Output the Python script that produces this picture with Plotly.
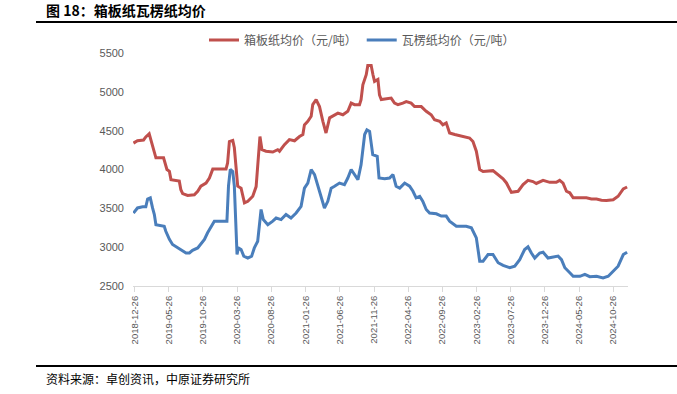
import plotly.graph_objects as go

# ---------------- data ----------------
red_name = "箱板纸均价（元/吨）"
blue_name = "瓦楞纸均价（元/吨）"

red_dates = ["2018-12-21","2019-01-08","2019-02-04","2019-02-14","2019-03-01","2019-03-16","2019-03-24","2019-03-31","2019-05-04","2019-05-10","2019-05-19","2019-05-30","2019-06-06","2019-07-13","2019-07-20","2019-07-28","2019-08-19","2019-09-18","2019-10-03","2019-10-17","2019-11-09","2019-11-24","2019-12-09","2020-02-06","2020-02-13","2020-02-21","2020-03-07","2020-03-14","2020-03-21","2020-03-29","2020-04-13","2020-04-28","2020-05-13","2020-06-04","2020-06-19","2020-06-26","2020-07-06","2020-07-15","2020-08-02","2020-09-01","2020-09-23","2020-10-01","2020-10-23","2020-11-14","2020-12-07","2020-12-29","2021-01-13","2021-01-20","2021-02-04","2021-02-19","2021-02-26","2021-03-13","2021-03-28","2021-04-12","2021-04-26","2021-05-12","2021-05-26","2021-06-18","2021-07-10","2021-08-01","2021-08-16","2021-08-31","2021-09-22","2021-09-29","2021-10-07","2021-10-22","2021-10-29","2021-11-13","2021-11-21","2021-11-28","2021-12-13","2021-12-20","2021-12-28","2022-02-10","2022-02-25","2022-03-12","2022-04-03","2022-04-18","2022-05-10","2022-05-25","2022-06-24","2022-07-16","2022-08-07","2022-08-22","2022-09-14","2022-09-28","2022-10-13","2022-10-28","2022-11-20","2023-01-03","2023-01-25","2023-02-09","2023-02-24","2023-03-11","2023-03-26","2023-05-09","2023-06-01","2023-06-23","2023-07-08","2023-07-30","2023-08-29","2023-09-20","2023-10-12","2023-11-03","2023-11-18","2023-12-18","2024-01-17","2024-02-15","2024-03-01","2024-03-16","2024-03-31","2024-04-15","2024-04-30","2024-05-30","2024-06-28","2024-07-20","2024-08-12","2024-09-03","2024-09-25","2024-10-25","2024-11-16","2024-12-09","2024-12-26"]
red_vals = [4340,4370,4380,4420,4460,4300,4190,4150,4150,4100,4000,3975,3870,3850,3740,3690,3665,3675,3720,3785,3825,3890,4005,4005,4085,4360,4375,4280,4000,3785,3760,3570,3590,3655,3780,4060,4425,4255,4235,4225,4255,4235,4320,4385,4370,4425,4450,4575,4620,4685,4835,4900,4810,4620,4470,4665,4685,4725,4705,4750,4855,4835,4835,4900,5090,5220,5340,5340,5220,5135,5160,4960,4900,4920,4855,4835,4855,4875,4855,4810,4810,4750,4705,4640,4620,4575,4600,4470,4450,4425,4405,4360,4235,4000,3975,3985,3935,3880,3827,3706,3720,3805,3860,3845,3820,3860,3835,3835,3860,3825,3720,3700,3635,3635,3635,3620,3620,3605,3600,3610,3655,3750,3775]

blue_dates = ["2018-12-21","2019-01-08","2019-01-31","2019-02-14","2019-02-22","2019-03-06","2019-03-16","2019-03-24","2019-03-31","2019-04-15","2019-05-07","2019-05-14","2019-05-30","2019-06-13","2019-07-06","2019-07-28","2019-08-12","2019-08-27","2019-09-10","2019-10-03","2019-10-17","2019-11-02","2019-11-16","2019-12-01","2019-12-16","2020-02-10","2020-02-17","2020-02-25","2020-03-07","2020-03-14","2020-03-21","2020-03-26","2020-04-01","2020-04-13","2020-04-25","2020-05-13","2020-05-30","2020-06-11","2020-06-26","2020-07-01","2020-07-11","2020-07-21","2020-08-10","2020-09-01","2020-09-16","2020-10-08","2020-10-30","2020-11-21","2020-12-14","2021-01-05","2021-01-20","2021-02-04","2021-02-19","2021-03-06","2021-03-28","2021-04-19","2021-05-04","2021-05-19","2021-06-03","2021-06-25","2021-07-17","2021-08-01","2021-08-16","2021-08-31","2021-09-15","2021-09-29","2021-10-15","2021-10-25","2021-11-06","2021-11-13","2021-11-20","2021-12-10","2021-12-18","2022-01-12","2022-02-03","2022-02-18","2022-03-04","2022-03-20","2022-04-11","2022-05-03","2022-05-18","2022-06-01","2022-06-17","2022-07-01","2022-07-16","2022-07-31","2022-08-30","2022-09-21","2022-10-13","2022-10-28","2022-11-27","2023-01-10","2023-02-02","2023-02-24","2023-03-11","2023-03-26","2023-04-17","2023-05-09","2023-06-01","2023-06-23","2023-07-23","2023-08-14","2023-09-05","2023-09-27","2023-10-12","2023-10-27","2023-11-11","2023-12-03","2023-12-18","2024-01-09","2024-02-23","2024-03-09","2024-03-24","2024-04-15","2024-04-30","2024-05-30","2024-06-21","2024-07-13","2024-08-12","2024-09-10","2024-10-03","2024-10-25","2024-11-16","2024-12-09","2024-12-26"]
blue_vals = [3440,3505,3520,3520,3620,3635,3505,3420,3290,3280,3270,3205,3100,3035,2990,2945,2925,2925,2960,2990,3035,3100,3185,3270,3335,3335,3785,4000,3975,3785,3310,2905,2990,2970,2885,2860,2885,2990,3076,3250,3485,3355,3290,3335,3375,3355,3420,3375,3440,3525,3760,3825,4000,3935,3720,3505,3590,3760,3785,3825,3805,3890,4000,3935,3870,4060,4450,4510,4490,4340,4190,4170,3890,3880,3890,3935,3785,3760,3825,3785,3720,3635,3655,3590,3485,3440,3430,3400,3400,3335,3270,3270,3250,3120,2820,2820,2905,2905,2800,2765,2735,2755,2840,2970,3005,2925,2860,2925,2935,2860,2885,2840,2735,2670,2625,2625,2650,2620,2625,2605,2625,2690,2755,2905,2935]

x_ticks = ["2018-12-26","2019-05-26","2019-10-26","2020-03-26","2020-08-26","2021-01-26","2021-06-26","2021-11-26","2022-04-26","2022-09-26","2023-02-26","2023-07-26","2023-12-26","2024-05-26","2024-10-26"]
y_ticks = [2500, 3000, 3500, 4000, 4500, 5000, 5500]

title_text = "图 18：箱板纸瓦楞纸均价"
source_text = "资料来源：卓创资讯，中原证券研究所"

# ---------------- layout helpers ----------------
W, H = 677, 394
PLOT_L, PLOT_R, PLOT_T, PLOT_B = 133, 628, 53, 286   # page pixels
ML, MR, MT, MB = PLOT_L, W - PLOT_R, PLOT_T, H - PLOT_B
PW, PH = PLOT_R - PLOT_L, PLOT_B - PLOT_T

def px2x(px):
    return (px - PLOT_L) / PW

def py2y(py):
    return (PLOT_B - py) / PH

RED = "#C0504D"
BLUE = "#4A7EBB"
GRAY = "#595959"
NUMFONT = "Liberation Sans, Noto Sans CJK SC, sans-serif"
CJK = "Noto Sans CJK SC, sans-serif"

fig = go.Figure()
fig.add_trace(go.Scatter(x=red_dates, y=red_vals, mode="lines", name=red_name,
                         line=dict(color=RED, width=3)))
fig.add_trace(go.Scatter(x=blue_dates, y=blue_vals, mode="lines", name=blue_name,
                         line=dict(color=BLUE, width=3)))

fig.update_layout(
    width=W, height=H,
    margin=dict(l=ML, r=MR, t=MT, b=MB),
    paper_bgcolor="white", plot_bgcolor="white",
    showlegend=True,
    legend=dict(orientation="h", x=px2x(362), xanchor="center", y=py2y(40), yanchor="middle",
                font=dict(family=CJK, size=12, color=GRAY), itemwidth=30,
                bgcolor="rgba(0,0,0,0)", tracegroupgap=0),
    xaxis=dict(type="date", range=["2018-12-19", "2024-12-30"],
               tickvals=x_ticks, ticktext=x_ticks, tickangle=-90,
               tickfont=dict(family=NUMFONT, size=9.5, color=GRAY),
               showline=True, linecolor="#D9D9D9", linewidth=1,
               ticks="outside", ticklen=5, tickcolor="#D9D9D9",
               showgrid=False, zeroline=False, fixedrange=True),
    yaxis=dict(range=[2500, 5500], tickvals=y_ticks,
               tickfont=dict(family=NUMFONT, size=11, color=GRAY),
               showline=False, showgrid=False, zeroline=False, ticks="",
               ticklabelstandoff=8, fixedrange=True),
)

# title and rules
fig.add_annotation(text="<b>" + title_text + "</b>", xref="paper", yref="paper",
                   x=px2x(44), y=py2y(10), xanchor="left", yanchor="middle",
                   showarrow=False, font=dict(family=CJK, size=14, color="#000000"))
fig.add_shape(type="line", xref="paper", yref="paper",
              x0=px2x(36), x1=px2x(677), y0=py2y(22), y1=py2y(22),
              line=dict(color="#000000", width=2))
fig.add_shape(type="line", xref="paper", yref="paper",
              x0=px2x(36), x1=px2x(677), y0=py2y(366), y1=py2y(366),
              line=dict(color="#000000", width=2))
fig.add_annotation(text=source_text, xref="paper", yref="paper",
                   x=px2x(44), y=py2y(378), xanchor="left", yanchor="middle",
                   showarrow=False, font=dict(family=CJK, size=12, color="#000000"))

# remove the page's default body margin so the figure sits at the window's corner
fig.write_html("out.html",
               config={"displayModeBar": False, "staticPlot": True},
               post_script="document.body.style.margin='0px';document.body.style.overflow='hidden';")
